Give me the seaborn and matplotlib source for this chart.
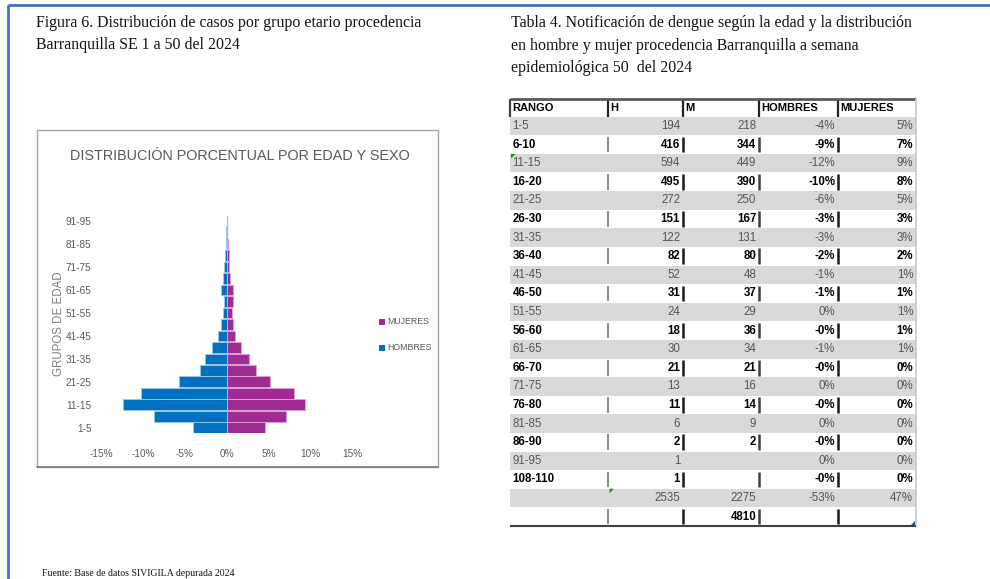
import matplotlib
matplotlib.use("Agg")
import matplotlib.pyplot as plt
from matplotlib.patches import Rectangle, Polygon
import numpy as np
import pandas as pd
import seaborn as sns

# ---------------------------------------------------------------- data
rangos = ["1-5", "6-10", "11-15", "16-20", "21-25", "26-30", "31-35", "36-40",
          "41-45", "46-50", "51-55", "56-60", "61-65", "66-70", "71-75", "76-80",
          "81-85", "86-90", "91-95", "108-110"]
hombres = [194, 416, 594, 495, 272, 151, 122, 82, 52, 31, 24, 18, 30, 21, 13, 11,
           6, 2, 1, 1]
mujeres = [218, 344, 449, 390, 250, 167, 131, 80, 48, 37, 29, 36, 34, 21, 16, 14,
           9, 2, None, None]
pct_hombres_txt = ["-4%", "-9%", "-12%", "-10%", "-6%", "-3%", "-3%", "-2%", "-1%",
                   "-1%", "0%", "-0%", "-1%", "-0%", "0%", "-0%", "0%", "-0%", "0%",
                   "-0%"]
pct_mujeres_txt = ["5%", "7%", "9%", "8%", "5%", "3%", "3%", "2%", "1%", "1%", "1%",
                   "1%", "1%", "0%", "0%", "0%", "0%", "0%", "0%", "0%"]
total_hombres_txt = "2535"
total_mujeres_txt = "2275"
total_pct_txt = ["-53%", "47%"]
total_general = 4810
columnas = ["RANGO", "H", "M", "HOMBRES", "MUJERES"]

x_ticks = [-15, -10, -5, 0, 5, 10, 15]
x_tick_labels = ["-15%", "-10%", "-5%", "0%", "5%", "10%", "15%"]

# ---------------------------------------------------------------- style
sns.set_style("white")
plt.rcParams["font.family"] = ["Liberation Sans", "DejaVu Sans"]
NARROW = ["Liberation Sans", "DejaVu Sans"]
SERIF = ["Liberation Serif", "DejaVu Serif"]
SANS = ["Liberation Sans", "DejaVu Sans"]
AZUL = "#0070C0"
MORADO = "#A02B93"
GRIS_TXT = "#595959"

W, H = 990, 579
fig = plt.figure(figsize=(W / 100, H / 100), dpi=100)

# page layer in pixel coordinates
page = fig.add_axes([0, 0, 1, 1], zorder=0)
page.set_xlim(0, W)
page.set_ylim(H, 0)
page.axis("off")

# blue page frame (top and left edges)
page.plot([7.5, W], [5, 5], color="#4472C4", lw=2, solid_capstyle="butt")
page.plot([7.5, 7.5], [5, H], color="#4472C4", lw=2, solid_capstyle="butt")

# captions
CAP = 11.4
page.text(36, 23, "Figura 6. Distribución de casos por grupo etario procedencia",
          family=SERIF, fontsize=CAP, va="center", ha="left", color="#111111")
page.text(36, 45, "Barranquilla SE 1 a 50 del 2024",
          family=SERIF, fontsize=CAP, va="center", ha="left", color="#111111")
page.text(511, 23, "Tabla 4. Notificación de dengue según la edad y la distribución",
          family=SERIF, fontsize=CAP, va="center", ha="left", color="#111111")
page.text(511, 46, "en hombre y mujer procedencia Barranquilla a semana",
          family=SERIF, fontsize=CAP, va="center", ha="left", color="#111111")
page.text(511, 68, "epidemiológica 50  del 2024",
          family=SERIF, fontsize=CAP, va="center", ha="left", color="#111111")
page.text(42, 574, "Fuente: Base de datos SIVIGILA depurada 2024",
          family=SERIF, fontsize=7.1, va="center", ha="left", color="#111111")

# chart frame
page.add_patch(Rectangle((37, 130), 401, 337, fill=False, edgecolor="#A6A6A6", lw=1))
page.plot([37, 438], [467, 467], color="#808080", lw=1.3)
page.text(240, 156.5, "DISTRIBUCIÓN PORCENTUAL POR EDAD Y SEXO", family=NARROW,
          fontsize=10.4, color=GRIS_TXT, ha="center", va="center")
page.text(59.5, 324, "GRUPOS DE EDAD", family=SANS, fontsize=8.3, color="#7F7F7F",
          rotation=90, ha="center", va="center")

# legend
page.add_patch(Rectangle((379, 318.5), 6, 6, color=MORADO, lw=0))
page.text(387, 321.5, "MUJERES", family=NARROW, fontsize=6.3, color=GRIS_TXT,
          ha="left", va="center")
page.add_patch(Rectangle((379, 345), 6, 6, color=AZUL, lw=0))
page.text(387, 348, "HOMBRES", family=NARROW, fontsize=6.3, color=GRIS_TXT,
          ha="left", va="center")

# ---------------------------------------------------------------- pyramid
grupos = rangos[:19]
df = pd.DataFrame({
    "grupo": grupos,
    "hombres": [-100.0 * v / total_general for v in hombres[:19]],
    "mujeres": [np.nan if v is None else 100.0 * v / total_general for v in mujeres[:19]],
})
orden = grupos[::-1]

left, right = 101.3, 352.1
top, bottom = 215.5, 433.4
axp = fig.add_axes([left / W, 1 - bottom / H, (right - left) / W, (bottom - top) / H],
                   zorder=2)
axp.set_facecolor("none")
axp.axvline(0, color="#D0D0D0", lw=1, zorder=0)
sns.barplot(data=df, x="hombres", y="grupo", order=orden, orient="h", ax=axp,
            color=AZUL, width=0.93, edgecolor="#9DC3E6", linewidth=0.7,
            saturation=1)
sns.barplot(data=df, x="mujeres", y="grupo", order=orden, orient="h", ax=axp,
            color=MORADO, width=0.93, edgecolor="#D9A0D3", linewidth=0.7,
            saturation=1)
axp.set_xlim(-15, 15)
axp.set_ylim(len(orden) - 0.5, -0.5)
axp.set_xlabel("")
axp.set_ylabel("")
axp.set_xticks(x_ticks)
axp.set_xticklabels(x_tick_labels, family=NARROW, fontsize=7.2, color=GRIS_TXT)
etiquetas = [g if (grupos.index(g) % 2 == 0) else "" for g in orden]
axp.set_yticks(range(len(orden)))
axp.set_yticklabels(etiquetas, family=NARROW, fontsize=7.2, color=GRIS_TXT)
axp.tick_params(axis="x", length=0, pad=11)
axp.tick_params(axis="y", length=0, pad=7)
for s in axp.spines.values():
    s.set_visible(False)
axp.grid(False)

# ---------------------------------------------------------------- table
cx = [510, 608, 683, 759, 838, 916]
h_top, h_bot = 99, 116.7
row_h = 18.6
filas = []
for i, r in enumerate(rangos):
    filas.append([r, str(hombres[i]),
                  "" if mujeres[i] is None else str(mujeres[i]),
                  pct_hombres_txt[i], pct_mujeres_txt[i]])
filas.append(["", total_hombres_txt, total_mujeres_txt] + total_pct_txt)
filas.append(["", "", str(total_general), "", ""])
t_bottom = h_bot + len(filas) * row_h

for i, fila in enumerate(filas):
    y0 = h_bot + i * row_h
    yc = y0 + row_h / 2
    gris = (i % 2 == 0)
    if gris:
        page.add_patch(Rectangle((cx[0], y0), cx[-1] - cx[0], row_h,
                                 color="#D9D9D9", lw=0))
        color, peso = "#555555", "normal"
    else:
        color, peso = "#000000", "bold"
        for k, xs in enumerate(cx[1:5]):
            c = "#808080" if k == 0 else ("#1A1A1A" if k % 2 == 1 else "#404040")
            page.plot([xs, xs], [y0 + 1.5, y0 + row_h - 1.5], color=c,
                      lw=1.3 if k == 0 else 1.8, solid_capstyle="butt")
    page.text(cx[0] + 2.5, yc, fila[0], family=SANS, fontsize=8.3, color=color,
              weight=peso, ha="left", va="center")
    for j in range(1, 5):
        page.text(cx[j + 1] - 2.8, yc, fila[j], family=SANS, fontsize=8.3,
                  color=color, weight=peso, ha="right", va="center")

# header
for j, nombre in enumerate(columnas):
    page.text(cx[j] + 2.5, (h_top + h_bot) / 2 + 0.5, nombre, family=SANS,
              fontsize=8, weight="bold", color="#000000", ha="left", va="center")
for xs in cx[1:5]:
    page.plot([xs, xs], [h_top, h_bot], color="#262626", lw=1.6, solid_capstyle="butt")
page.plot([cx[0], cx[0]], [h_top, h_bot], color="#404040", lw=1.6, solid_capstyle="butt")
page.plot([cx[0], cx[-1]], [h_top, h_top], color="#595959", lw=2, solid_capstyle="butt")
page.plot([cx[-1], cx[-1]], [h_top, t_bottom], color="#C8C8C8", lw=1.2)
page.plot([cx[0], cx[-1]], [t_bottom, t_bottom], color="#404040", lw=1.5,
          solid_capstyle="butt")

# cell indicator marks
page.add_patch(Polygon([[511, h_bot + 2 * row_h], [515.5, h_bot + 2 * row_h],
                        [511, h_bot + 2 * row_h + 4.5]], color="#1E8C1E", lw=0))
page.add_patch(Polygon([[609.5, h_bot + 20 * row_h], [614, h_bot + 20 * row_h],
                        [609.5, h_bot + 20 * row_h + 4.5]], color="#1E8C1E", lw=0))
page.add_patch(Polygon([[915, t_bottom - 5], [915, t_bottom - 0.5],
                        [910.5, t_bottom - 0.5]], color="#2F5597", lw=0))

fig.savefig("out.png", dpi=100)
